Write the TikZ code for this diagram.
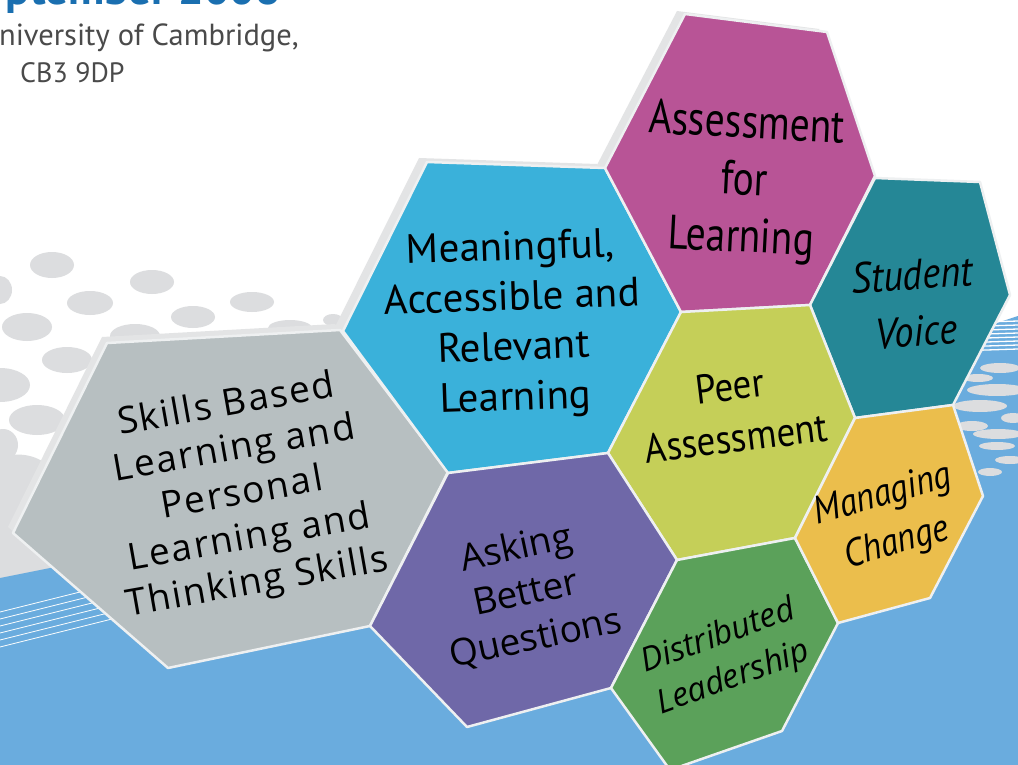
\documentclass[tikz,border=0pt]{standalone}
\usepackage{fontspec}
\setmainfont{PT Sans}
\newfontfamily\wide{Open Sans}
\newfontfamily\myr{PT Sans}
\newfontfamily\myrc[FakeStretch=0.82]{PT Sans}
\newfontfamily\myrs[FakeStretch=0.9]{PT Sans}
\definecolor{bluebg}{HTML}{6AACDE}
\definecolor{dotc}{HTML}{DCDDDF}
\definecolor{bevc}{HTML}{E3E4E5}
\definecolor{sepc}{HTML}{EEF0F1}
\definecolor{hgray}{HTML}{B7BFC1}
\definecolor{hcyan}{HTML}{3AB1DA}
\definecolor{hmag}{HTML}{B85496}
\definecolor{hteal}{HTML}{258796}
\definecolor{hpeer}{HTML}{C5CF58}
\definecolor{hpurp}{HTML}{6F68A8}
\definecolor{hgreen}{HTML}{5BA15A}
\definecolor{horange}{HTML}{EBBE4C}
\definecolor{headblue}{HTML}{1A6FB0}
\definecolor{headgray}{HTML}{4A4A4A}
\tikzset{
  hexcell/.style={draw=sepc, line width=2.5pt, line join=round},
  bevel/.style={fill=bevc},
  lbl/.style={align=center, text=black, inner sep=0pt},
  dot/.style={fill=dotc},
}
\begin{document}
\begin{tikzpicture}[x=1pt,y=-1pt]
\useasboundingbox (0,0) rectangle (1018,765);
\clip (0,0) rectangle (1018,765);
\fill[white] (0,0) rectangle (1018,765);
% grey dots on the left
\foreach \x/\y/\a/\b in {52/265/22/13, 0/290/12/14, 152/282/22/12, 90/303/23/12,
  252/302/22/10, 193/317/22/11, 27/327/25/14, 135/336/25/12, 290/328/22/8,
  67/360/25/13, 0/385/30/17, 37/420/28/15, 3/445/15/16, 333/320/10/6}
  \fill[dot] (\x,\y) ellipse [x radius=\a, y radius=\b];
\fill[dot] (0,458) .. controls (35,445) and (70,470) .. (72,520) -- (72,585) -- (0,585) -- cycle;
% blue ground
\fill[bluebg] (0,578) -- (60,566) -- (700,420) -- (960,335) -- (1018,316) -- (1018,765) -- (0,765) -- cycle;
% white lines bottom left
\foreach \k in {0,...,5}
  \draw[white, line width=0.8pt] (0,{612+7*\k}) -- (140,{577+7*\k});
% stripes and dots on the right
\foreach \yy in {323,327,331,335,339,343,347,351}
  \draw[white, line width=1.3pt] (955,\yy) -- (1018,{\yy-2});
\foreach \x/\y/\a/\b in {1000/368/20/5, 978/378/15/4, 997/390/30/6, 980/406/27/6,
  1013/418/12/5, 972/426/16/5, 998/434/25/5, 997/446/18/4, 1010/460/15/4, 990/472/12/4}
  \fill[dotc] (\x,\y) ellipse [x radius=\a, y radius=\b];
% bevels
\fill[bevel, shift={(-5,-6)}] (107,343) -- (340,330) -- (448,472) -- (370,626) -- (168,668) -- (13,533) -- cycle;
\fill[bevel, shift={(-8,-4)}] (427,162) -- (605,168) -- (681,312) -- (608,453) -- (448,473) -- (343,331) -- cycle;
\fill[bevel, shift={(-8,-3)}] (685,14) -- (827,32) -- (875,176) -- (810,305) -- (681,312) -- (605,168) -- cycle;
% hexagons
\filldraw[hexcell, fill=hgray] (107,343) -- (340,330) -- (448,472) -- (370,626) -- (168,668) -- (13,533) -- cycle;
\filldraw[hexcell, fill=hcyan] (427,162) -- (605,168) -- (681,312) -- (608,453) -- (448,473) -- (343,331) -- cycle;
\filldraw[hexcell, fill=hmag] (685,14) -- (827,32) -- (875,176) -- (810,305) -- (681,312) -- (605,168) -- cycle;
\filldraw[hexcell, fill=hteal] (875,178) -- (980,182) -- (1010,295) -- (953,405) -- (855,418) -- (810,305) -- cycle;
\filldraw[hexcell, fill=hpeer] (681,312) -- (810,305) -- (855,418) -- (795,538) -- (677,560) -- (608,453) -- cycle;
\filldraw[hexcell, fill=hpurp] (448,473) -- (608,453) -- (677,560) -- (611,688) -- (467,727) -- (370,626) -- cycle;
\filldraw[hexcell, fill=hgreen] (677,560) -- (795,538) -- (838,623) -- (782,731) -- (670,770) -- (611,688) -- cycle;
\filldraw[hexcell, fill=horange] (855,418) -- (953,405) -- (983,496) -- (930,598) -- (838,623) -- (795,538) -- cycle;
% labels
\node[lbl, rotate=10, font={\wide\fontsize{37}{45}\selectfont\addfontfeature{LetterSpace=5}}] (skills) at (242,495)
  {Skills Based\\Learning and\\Personal\\Learning and\\Thinking Skills};
\node[lbl, rotate=2, font={\myr\fontsize{41}{50}\selectfont}] (mean) at (513,325)
  {Meaningful,\\Accessible and\\Relevant\\Learning};
\node[lbl, rotate=-3, font={\myrc\fontsize{48}{57}\selectfont}] (afl) at (744,183)
  {Assessment\\for\\Learning};
\node[lbl, rotate=4, font={\myrs\itshape\fontsize{43}{57}\selectfont}] (voice) at (914,303)
  {Student\\Voice};
\node[lbl, rotate=7, font={\myrs\fontsize{41}{52}\selectfont}] (peer) at (733,412)
  {Peer\\Assessment};
\node[lbl, rotate=12, font={\wide\fontsize{37}{46}\selectfont}] (ask) at (526,594)
  {Asking\\Better\\Questions};
\node[lbl, rotate=20, font={\wide\itshape\fontsize{33}{44}\selectfont}] (dist) at (726,658)
  {Distributed\\Leadership};
\node[lbl, rotate=16, font={\myrs\itshape\fontsize{39}{50}\selectfont}] (manag) at (890,520)
  {Managing\\Change};
% header
\node[anchor=base east, inner sep=0pt, text=headblue, font={\bfseries\fontsize{45}{48}\selectfont}] (date) at (281,5) {ptember 2008};
\node[anchor=base west, inner sep=0pt, text=headgray, font={\fontsize{30.5}{33}\selectfont}] (univ) at (-21,46) {University of Cambridge,};
\node[anchor=base west, inner sep=0pt, text=headgray, font={\fontsize{28}{32}\selectfont}] (post) at (20,83) {CB3 9DP};
\end{tikzpicture}
\end{document}
